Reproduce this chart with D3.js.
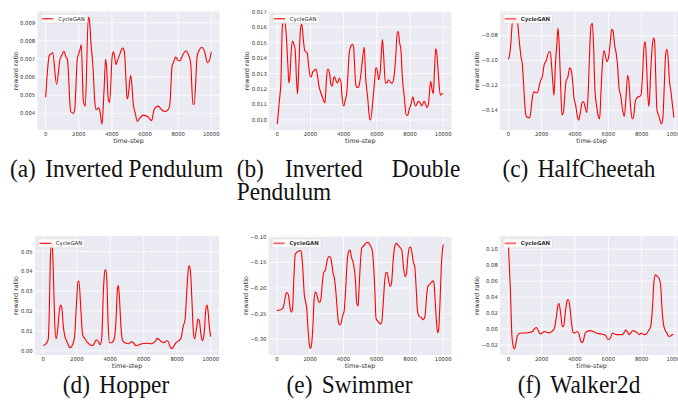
<!DOCTYPE html>
<html>
<head>
<meta charset="utf-8">
<script src="https://cdn.jsdelivr.net/npm/d3@7"></script>
<style>
  body { margin: 0; background: #fff; }
  svg { display: block; }
  .cap { font-family: "Liberation Serif", "Times New Roman", Times, serif; }
</style>
</head>
<body>
<svg id="fig" width="678" height="403"></svg>
<script>
// ---- data: [time-step, reward ratio] ----
const invPendulum = [[0,0.00488],[220,0.0072],[360,0.0073],[420,0.00735],[660,0.0056],[870,0.0070],[970,0.0072],[1100,0.00742],[1230,0.0071],[1310,0.0070],[1510,0.0041],[1670,0.0040],[1750,0.0042],[1910,0.0070],[2070,0.0075],[2150,0.0078],[2270,0.0047],[2390,0.0044],[2575,0.0093],[2635,0.0092],[2740,0.0078],[2860,0.0065],[2960,0.0047],[3040,0.0042],[3200,0.0043],[3280,0.0041],[3400,0.0034],[3520,0.0052],[3620,0.0070],[3680,0.0065],[3780,0.0048],[3860,0.0046],[4020,0.0072],[4100,0.0074],[4250,0.0067],[4330,0.0069],[4450,0.0072],[4650,0.0076],[4750,0.0074],[4910,0.0049],[4950,0.0048],[5130,0.0061],[5210,0.0055],[5290,0.0045],[5410,0.0040],[5530,0.00355],[5650,0.0037],[5900,0.0039],[6180,0.0038],[6400,0.0036],[6540,0.0042],[6800,0.0044],[7000,0.0042],[7200,0.0041],[7400,0.0042],[7500,0.0045],[7630,0.0066],[7710,0.0068],[7850,0.0071],[8010,0.0069],[8110,0.0069],[8270,0.0072],[8470,0.00745],[8590,0.0073],[8750,0.0068],[8890,0.0045],[8970,0.0045],[9150,0.0072],[9280,0.0075],[9400,0.00765],[9600,0.0074],[9760,0.0068],[9880,0.0069],[10000,0.0074]];

const invDoublePendulum = [[0,0.00973],[120,0.0112],[220,0.0125],[300,0.0160],[380,0.0165],[460,0.0163],[540,0.0155],[640,0.0135],[700,0.0124],[760,0.0128],[840,0.0145],[920,0.0151],[1000,0.0149],[1080,0.0145],[1160,0.0125],[1220,0.0117],[1300,0.0135],[1390,0.0158],[1470,0.0162],[1570,0.0152],[1650,0.0145],[1750,0.0144],[1810,0.0143],[1890,0.0135],[1990,0.0128],[2050,0.0128],[2130,0.0131],[2230,0.0132],[2330,0.0133],[2430,0.0128],[2510,0.0122],[2610,0.0118],[2710,0.0115],[2810,0.0112],[2870,0.0111],[2970,0.0128],[3050,0.0133],[3150,0.0130],[3230,0.0123],[3310,0.0122],[3390,0.0127],[3450,0.0128],[3550,0.0125],[3630,0.0124],[3730,0.0127],[3840,0.0124],[3900,0.0115],[4000,0.0109],[4100,0.0113],[4180,0.0117],[4260,0.0130],[4320,0.0142],[4440,0.0148],[4540,0.0149],[4600,0.0147],[4680,0.0130],[4740,0.0122],[4840,0.0121],[4920,0.0122],[5040,0.0130],[5140,0.0140],[5240,0.0147],[5320,0.0128],[5440,0.0115],[5560,0.0101],[5620,0.0100],[5760,0.0113],[5860,0.0125],[5940,0.0134],[6040,0.0131],[6100,0.0126],[6200,0.0131],[6330,0.0152],[6390,0.0145],[6510,0.0124],[6610,0.0124],[6690,0.0126],[6850,0.0124],[6930,0.0124],[7030,0.0128],[7130,0.0140],[7230,0.0157],[7290,0.0157],[7370,0.0150],[7450,0.0145],[7530,0.0128],[7650,0.0115],[7770,0.0103],[7850,0.0103],[7950,0.0107],[8050,0.0110],[8170,0.0115],[8250,0.0111],[8330,0.0109],[8490,0.0112],[8610,0.0111],[8690,0.0109],[8840,0.0112],[8940,0.0110],[9020,0.0108],[9100,0.0110],[9240,0.0125],[9320,0.0120],[9400,0.0117],[9460,0.0130],[9540,0.0146],[9600,0.0144],[9700,0.0130],[9820,0.0116],[9900,0.0117],[10000,0.0117]];

const halfCheetah = [[0,-0.0991],[80,-0.095],[160,-0.085],[240,-0.070],[360,-0.068],[460,-0.066],[560,-0.070],[660,-0.085],[760,-0.097],[840,-0.103],[920,-0.120],[1000,-0.138],[1080,-0.145],[1200,-0.146],[1280,-0.146],[1360,-0.140],[1440,-0.130],[1540,-0.125],[1640,-0.126],[1740,-0.126],[1860,-0.120],[1940,-0.116],[2040,-0.113],[2160,-0.103],[2280,-0.100],[2440,-0.093],[2520,-0.093],[2600,-0.105],[2680,-0.120],[2740,-0.128],[2820,-0.105],[2920,-0.085],[2980,-0.074],[3060,-0.090],[3140,-0.120],[3220,-0.144],[3300,-0.142],[3380,-0.130],[3460,-0.117],[3580,-0.113],[3680,-0.106],[3760,-0.107],[3860,-0.117],[3940,-0.130],[4040,-0.136],[4140,-0.145],[4220,-0.148],[4320,-0.142],[4420,-0.134],[4500,-0.133],[4620,-0.138],[4700,-0.142],[4780,-0.130],[4860,-0.100],[4960,-0.072],[5040,-0.070],[5120,-0.090],[5200,-0.125],[5280,-0.135],[5400,-0.145],[5480,-0.147],[5560,-0.125],[5660,-0.100],[5740,-0.092],[5840,-0.097],[5920,-0.101],[6020,-0.097],[6120,-0.085],[6200,-0.075],[6280,-0.076],[6380,-0.088],[6480,-0.095],[6560,-0.105],[6640,-0.122],[6740,-0.128],[6860,-0.140],[6960,-0.145],[7060,-0.130],[7160,-0.112],[7240,-0.118],[7340,-0.138],[7440,-0.147],[7520,-0.145],[7620,-0.133],[7720,-0.130],[7860,-0.129],[7960,-0.128],[8060,-0.110],[8140,-0.089],[8220,-0.085],[8300,-0.105],[8380,-0.130],[8440,-0.137],[8540,-0.110],[8640,-0.088],[8720,-0.082],[8780,-0.085],[8840,-0.110],[8920,-0.140],[9040,-0.145],[9140,-0.150],[9200,-0.151],[9280,-0.145],[9360,-0.120],[9440,-0.095],[9520,-0.091],[9600,-0.100],[9660,-0.115],[9760,-0.125],[9840,-0.135],[9940,-0.146]];

const hopper = [[0,0.0024],[100,0.003],[240,0.0045],[300,0.006],[360,0.020],[420,0.045],[480,0.055],[540,0.053],[600,0.040],[680,0.015],[760,0.006],[840,0.009],[960,0.020],[1020,0.023],[1100,0.022],[1200,0.012],[1300,0.007],[1390,0.005],[1490,0.003],[1590,0.0015],[1690,0.002],[1790,0.004],[1870,0.007],[1990,0.025],[2070,0.035],[2130,0.035],[2250,0.020],[2350,0.008],[2490,0.006],[2650,0.004],[2790,0.003],[2930,0.0025],[3070,0.004],[3170,0.0055],[3290,0.0045],[3390,0.003],[3490,0.006],[3590,0.030],[3670,0.040],[3730,0.041],[3800,0.035],[3880,0.012],[3960,0.004],[4080,0.004],[4240,0.006],[4340,0.015],[4420,0.030],[4480,0.033],[4540,0.028],[4640,0.012],[4740,0.005],[4880,0.004],[5080,0.0035],[5280,0.0045],[5380,0.004],[5540,0.0025],[5680,0.0028],[5880,0.0035],[6180,0.0037],[6470,0.0035],[6670,0.0045],[6810,0.0062],[6930,0.0055],[7070,0.0045],[7210,0.004],[7370,0.005],[7470,0.0045],[7570,0.002],[7690,0.001],[7810,0.0025],[7930,0.004],[8090,0.005],[8230,0.0065],[8350,0.012],[8470,0.016],[8570,0.030],[8650,0.040],[8710,0.043],[8790,0.040],[8880,0.025],[8960,0.010],[9040,0.006],[9160,0.012],[9240,0.016],[9320,0.015],[9420,0.008],[9500,0.005],[9600,0.008],[9700,0.020],[9780,0.023],[9840,0.020],[9920,0.012],[10000,0.007]];

const swimmer = [[0,-0.244],[160,-0.243],[300,-0.241],[380,-0.238],[480,-0.222],[560,-0.210],[620,-0.209],[700,-0.215],[800,-0.240],[880,-0.247],[940,-0.240],[1020,-0.180],[1100,-0.135],[1200,-0.130],[1300,-0.128],[1430,-0.127],[1490,-0.135],[1570,-0.170],[1650,-0.215],[1710,-0.225],[1790,-0.240],[1870,-0.280],[1950,-0.310],[2010,-0.318],[2070,-0.313],[2170,-0.270],[2230,-0.225],[2310,-0.208],[2390,-0.212],[2490,-0.225],[2570,-0.228],[2650,-0.220],[2730,-0.190],[2810,-0.170],[2910,-0.165],[3030,-0.145],[3150,-0.138],[3250,-0.143],[3370,-0.170],[3450,-0.180],[3510,-0.195],[3610,-0.235],[3690,-0.265],[3780,-0.272],[3860,-0.268],[3940,-0.255],[4040,-0.245],[4120,-0.210],[4220,-0.150],[4320,-0.128],[4400,-0.126],[4480,-0.140],[4580,-0.150],[4640,-0.160],[4720,-0.185],[4800,-0.230],[4880,-0.235],[4940,-0.200],[5020,-0.150],[5100,-0.122],[5240,-0.117],[5360,-0.112],[5480,-0.111],[5620,-0.118],[5720,-0.125],[5800,-0.150],[5880,-0.200],[5960,-0.260],[6080,-0.265],[6210,-0.270],[6290,-0.268],[6390,-0.230],[6470,-0.190],[6550,-0.170],[6630,-0.170],[6710,-0.185],[6810,-0.197],[6890,-0.190],[6990,-0.145],[7090,-0.118],[7170,-0.113],[7290,-0.117],[7430,-0.122],[7510,-0.127],[7610,-0.160],[7710,-0.178],[7770,-0.175],[7870,-0.140],[7950,-0.122],[8030,-0.120],[8110,-0.130],[8190,-0.148],[8290,-0.160],[8370,-0.200],[8450,-0.245],[8550,-0.255],[8690,-0.258],[8790,-0.262],[8900,-0.255],[9000,-0.215],[9080,-0.196],[9180,-0.193],[9300,-0.188],[9380,-0.186],[9440,-0.190],[9520,-0.230],[9600,-0.270],[9660,-0.287],[9720,-0.282],[9800,-0.230],[9880,-0.160],[9940,-0.130],[10000,-0.115]];

const walker2d = [[0,0.108],[120,0.05],[220,-0.010],[300,-0.022],[360,-0.025],[440,-0.020],[520,-0.010],[620,-0.006],[800,-0.005],[1040,-0.005],[1300,-0.004],[1440,-0.003],[1600,0.001],[1680,0.002],[1800,-0.002],[1920,-0.006],[2040,-0.005],[2160,-0.003],[2320,-0.004],[2460,-0.005],[2620,-0.003],[2760,0.001],[2880,0.015],[2980,0.030],[3040,0.032],[3140,0.020],[3240,0.003],[3320,0.004],[3440,0.025],[3540,0.036],[3600,0.037],[3680,0.030],[3780,0.010],[3880,-0.004],[4000,-0.005],[4120,-0.003],[4240,-0.006],[4340,-0.015],[4420,-0.017],[4500,-0.015],[4600,-0.006],[4720,-0.003],[4900,-0.002],[5080,-0.003],[5280,-0.005],[5520,-0.006],[5720,-0.007],[5840,-0.008],[5980,-0.013],[6100,-0.012],[6260,-0.005],[6360,-0.006],[6500,-0.007],[6700,-0.007],[6840,-0.007],[6960,-0.004],[7040,-0.001],[7140,-0.003],[7240,-0.007],[7340,-0.005],[7460,-0.002],[7600,-0.003],[7760,-0.005],[7860,-0.007],[7980,-0.005],[8040,-0.006],[8200,-0.007],[8320,-0.005],[8440,-0.001],[8540,0.003],[8660,0.030],[8740,0.060],[8820,0.068],[8940,0.066],[9060,0.063],[9140,0.055],[9240,0.020],[9320,0.005],[9400,-0.001],[9520,-0.005],[9620,-0.009],[9720,-0.009],[9840,-0.007],[9900,-0.007]];

const xTicks = [0, 2000, 4000, 6000, 8000, 10000];
const ticksA = [0.004, 0.005, 0.006, 0.007, 0.008, 0.009];
const ticksB = [0.010, 0.011, 0.012, 0.013, 0.014, 0.015, 0.016, 0.017];
const ticksC = [-0.14, -0.12, -0.10, -0.08];
const ticksD = [0.00, 0.01, 0.02, 0.03, 0.04, 0.05];
const ticksE = [-0.30, -0.25, -0.20, -0.15, -0.10];
const ticksF = [-0.02, 0.00, 0.02, 0.04, 0.06, 0.08, 0.10];

const seriesName = "CycleGAN";
const xLabel = "time-step";
const yLabel = "reward ratio";

// ---- layout ----
const svg = d3.select("#fig");
const bg = "#eaeaf2";
const red = "#ff0000";
const sans = "DejaVu Sans";

const panels = [
  {data: invPendulum, ticks: ticksA, fmt: ".3f", yDom: [0.00308, 0.00962], x: [37.4, 219.6], y: [11.5, 130], faded: false},
  {data: invDoublePendulum, ticks: ticksB, fmt: ".3f", yDom: [0.00935, 0.01702], x: [269, 451.6], y: [11.5, 130], faded: false},
  {data: halfCheetah, ticks: ticksC, fmt: ".2f", yDom: [-0.156, -0.0606], x: [500, 683.3], y: [11.5, 130], faded: true},
  {data: hopper, ticks: ticksD, fmt: ".2f", yDom: [-0.0022, 0.0579], x: [34.9, 219.1], y: [236, 355], faded: false},
  {data: swimmer, ticks: ticksE, fmt: ".2f", yDom: [-0.3306, -0.0986], x: [268.6, 451.6], y: [236, 355], faded: true},
  {data: walker2d, ticks: ticksF, fmt: ".2f", yDom: [-0.0325, 0.1167], x: [500, 683.3], y: [236, 355], faded: true}
];

panels.forEach((p, i) => {
  const x = d3.scaleLinear().domain([-500, 10500]).range(p.x);
  const y = d3.scaleLinear().domain(p.yDom).range([p.y[1], p.y[0]]);
  const g = svg.append("g");

  g.append("rect")
    .attr("x", p.x[0]).attr("y", p.y[0])
    .attr("width", p.x[1] - p.x[0]).attr("height", p.y[1] - p.y[0])
    .attr("fill", bg);

  // grid
  g.selectAll(".gx").data(xTicks).join("line")
    .attr("x1", d => x(d)).attr("x2", d => x(d))
    .attr("y1", p.y[0]).attr("y2", p.y[1])
    .attr("stroke", "#fff").attr("stroke-width", 0.8);
  g.selectAll(".gy").data(p.ticks).join("line")
    .attr("x1", p.x[0]).attr("x2", p.x[1])
    .attr("y1", d => y(d)).attr("y2", d => y(d))
    .attr("stroke", "#fff").attr("stroke-width", 0.8);

  // tick labels
  g.selectAll(".tx").data(xTicks).join("text")
    .attr("x", d => x(d)).attr("y", p.y[1] + 5.8)
    .attr("text-anchor", "middle")
    .attr("font-family", sans).attr("font-size", 5.3).attr("fill", "#333")
    .text(d => d);
  const fmt = d3.format(p.fmt);
  const ty = g.selectAll(".ty").data(p.ticks).join("text")
    .attr("x", p.x[0] - 2.2).attr("y", d => y(d) + 1.9)
    .attr("text-anchor", "end")
    .attr("font-family", sans).attr("font-size", 5.3).attr("fill", "#333")
    .text(d => fmt(d));
  let maxW = 0;
  ty.each(function () { maxW = Math.max(maxW, this.getComputedTextLength()); });

  // axis labels
  g.append("text")
    .attr("x", (p.x[0] + p.x[1]) / 2).attr("y", p.y[1] + 12.5)
    .attr("text-anchor", "middle")
    .attr("font-family", sans).attr("font-size", 6.4).attr("fill", "#333")
    .text(xLabel);
  const ly = (p.y[0] + p.y[1]) / 2;
  const lx = p.x[0] - 2.2 - maxW - 2.5;
  g.append("text")
    .attr("transform", `translate(${lx},${ly}) rotate(-90)`)
    .attr("text-anchor", "middle")
    .attr("font-family", sans).attr("font-size", 6.4).attr("fill", "#333")
    .text(yLabel);

  // line
  const clipId = "clip" + i;
  svg.append("clipPath").attr("id", clipId).append("rect")
    .attr("x", p.x[0]).attr("y", p.y[0])
    .attr("width", p.x[1] - p.x[0]).attr("height", p.y[1] - p.y[0]);
  const line = d3.line().x(d => x(d[0])).y(d => y(d[1])).curve(d3.curveMonotoneX);
  g.append("path")
    .attr("clip-path", `url(#${clipId})`)
    .attr("d", line(p.data))
    .attr("fill", "none").attr("stroke", red).attr("stroke-width", 1.1)
    .attr("stroke-linejoin", "round");

  // legend
  const lg = g.append("g").attr("transform", `translate(${p.x[0] + 3.4},${p.y[0] + 2.8})`);
  const box = lg.append("rect").attr("x", 0).attr("y", 0).attr("height", 9).attr("rx", 1)
    .attr("fill", "#fff").attr("fill-opacity", 0.85)
    .attr("stroke", "#d0d0d0").attr("stroke-width", 0.5);
  lg.append("line").attr("x1", 1.2).attr("x2", 12.6).attr("y1", 4.5).attr("y2", 4.5)
    .attr("stroke", p.faded ? "#ff6a6a" : red).attr("stroke-width", p.faded ? 1.8 : 1.1);
  const lt = lg.append("text").attr("x", 17.4).attr("y", 6.4)
    .attr("font-family", sans).attr("font-size", 5.4)
    .attr("font-weight", p.faded ? "bold" : "normal")
    .attr("fill", "#333").text(seriesName);
  box.attr("width", 17.4 + lt.node().getComputedTextLength() + 2.4);
});

// ---- captions (LaTeX style, Times) ----
const capSize = 23.3;
const capGap = 9.4;
function capText(parent, t) {
  return parent.append("text").attr("class", "cap").attr("font-size", capSize).attr("fill", "#111").text(t);
}
function caption(label, name, cx, baseline) {
  const g = svg.append("g").attr("transform", `translate(0,${baseline}) scale(1,1.08)`);
  const a = capText(g, label);
  const b = capText(g, name);
  const wa = a.node().getComputedTextLength();
  const wb = b.node().getComputedTextLength();
  const x0 = cx - (wa + capGap + wb) / 2;
  a.attr("x", x0);
  b.attr("x", x0 + wa + capGap);
}
caption("(a)", "Inverted Pendulum", 116.5, 176.7);
caption("(c)", "HalfCheetah", 579, 176.7);
caption("(d)", "Hopper", 116, 392.5);
caption("(e)", "Swimmer", 349.5, 392.5);
caption("(f)", "Walker2d", 579, 392.5);

// (b) is justified over two lines
[["(b)", 236.7, 176.7], ["Inverted", 285, 176.7], ["Double", 391.7, 176.7], ["Pendulum", 236.7, 200]]
  .forEach(([t, xx, yy]) => {
    const g = svg.append("g").attr("transform", `translate(0,${yy}) scale(1,1.08)`);
    capText(g, t).attr("x", xx);
  });
</script>
</body>
</html>
